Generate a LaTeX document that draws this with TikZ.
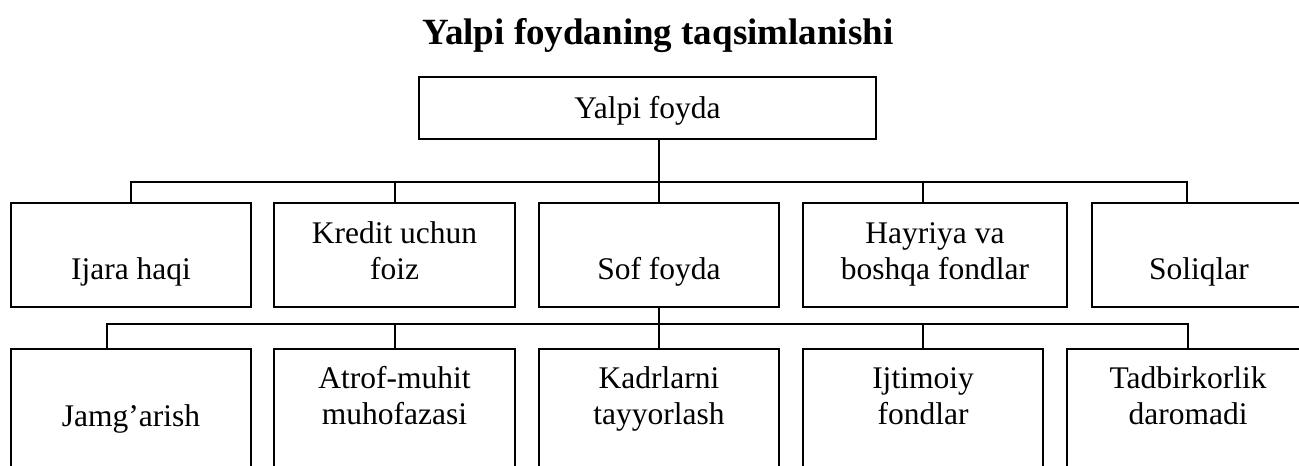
\documentclass[tikz,border=0pt]{standalone}
\usepackage{fontspec}
\setmainfont{Liberation Serif}
\begin{document}
\begin{tikzpicture}[x=1pt,y=1pt,
  line width=2pt,
  box/.style={draw, line width=2pt, inner sep=0pt, anchor=north,
    font=\fontsize{31.5}{36}\selectfont},
  twoA/.style={text height=40pt, text depth=64pt},
  oneA/.style={text height=76pt, text depth=28pt},
  twoB/.style={text height=39pt, text depth=93pt},
  oneB/.style={text height=77pt, text depth=55pt},
  wA/.style={minimum width=240pt},
]
\useasboundingbox (0,0) rectangle (1299,-466);
\clip (0,0) rectangle (1299,-466);

\node[font=\fontsize{37}{40}\selectfont\bfseries, anchor=base] (title) at (658,-44) {Yalpi foydaning taqsimlanishi};

\node[box, minimum width=457pt, text height=41pt, text depth=21pt] (top) at (647.5,-76) {Yalpi foyda};

% level 1
\node[box, wA, oneA] (b1) at (131,-202) {Ijara haqi};
\node[box, minimum width=241pt, twoA] (b2) at (394.5,-202) {\begin{tabular}[t]{@{}c@{}}Kredit uchun\\foiz\end{tabular}};
\node[box, wA, oneA] (b3) at (659,-202) {Sof foyda};
\node[box, minimum width=264pt, twoA] (b4) at (935,-202) {\begin{tabular}[t]{@{}c@{}}Hayriya va\\boshqa fondlar\end{tabular}};
\node[box, minimum width=214pt, oneA] (b5) at (1199,-202) {Soliqlar};

% level 2
\node[box, wA, oneB] (c1) at (131,-348) {Jamg'arish};
\node[box, minimum width=241pt, twoB] (c2) at (394.5,-348) {\begin{tabular}[t]{@{}c@{}}Atrof-muhit\\muhofazasi\end{tabular}};
\node[box, wA, twoB] (c3) at (659,-348) {\begin{tabular}[t]{@{}c@{}}Kadrlarni\\tayyorlash\end{tabular}};
\node[box, wA, twoB] (c4) at (923,-348) {\begin{tabular}[t]{@{}c@{}}Ijtimoiy\\fondlar\end{tabular}};
\node[box, minimum width=242pt, twoB] (c5) at (1188,-348) {\begin{tabular}[t]{@{}c@{}}Tadbirkorlik\\daromadi\end{tabular}};

% connector helpers
\coordinate (L1) at (0,-182);
\coordinate (L2) at (0,-324);
\coordinate (d4) at (923,-202);
\coordinate (d5) at (1187,-202);
\coordinate (e1) at (107,-348);

% level 1 connectors
\draw (top.south -| b3.north) -- (b3.north);
\draw (b1.north) -- (b1.north |- L1) -- (d5 |- L1) -- (d5);
\draw (b2.north) -- (b2.north |- L1);
\draw (d4) -- (d4 |- L1);

% level 2 connectors
\draw (b3.south) -- (c3.north);
\draw (e1) -- (e1 |- L2) -- (c5.north |- L2) -- (c5.north);
\draw (c2.north) -- (c2.north |- L2);
\draw (c4.north) -- (c4.north |- L2);
\end{tikzpicture}
\end{document}
